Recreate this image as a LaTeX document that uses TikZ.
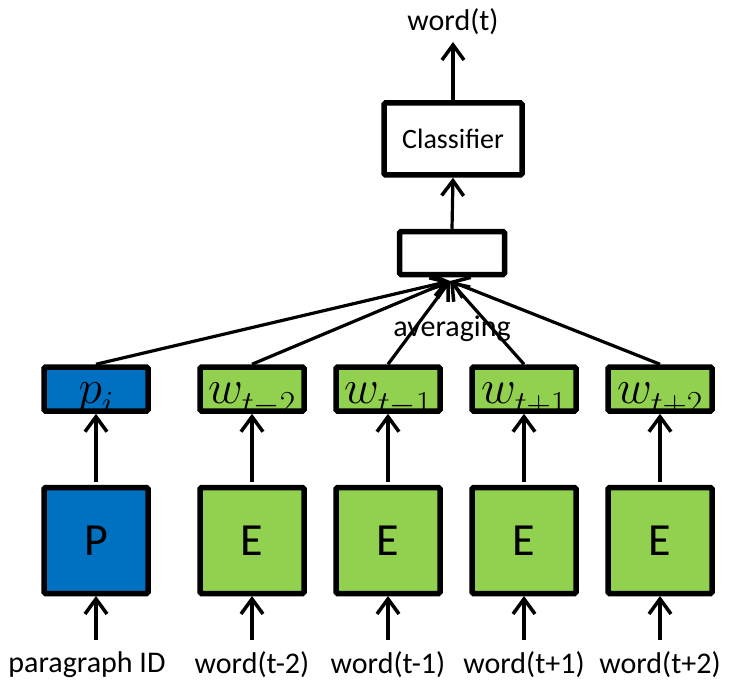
\documentclass[tikz,border=0pt]{standalone}
\usepackage{fix-cm}
\usepackage{fontspec}
\setmainfont{Carlito}
\usetikzlibrary{arrows.meta}
\definecolor{pblue}{HTML}{0070C0}
\definecolor{egreen}{HTML}{92D050}
\newcommand{\lowsub}[2]{#1_{\lower4pt\hbox{$\scriptstyle #2$}}}
\begin{document}
\begin{tikzpicture}[x=1pt,y=-1pt,
  box/.style={draw=black,line width=5.5pt,rounded corners=1.5pt,inner sep=0pt},
  vecbox/.style={box,minimum width=104pt,minimum height=44pt},
  embbox/.style={box,minimum width=104pt,minimum height=106pt,font=\fontsize{46}{50}\selectfont},
  lbl/.style={font=\fontsize{30}{34}\selectfont,inner sep=0pt},
  arr/.style={line width=3.2pt,-{Straight Barb[length=15pt,width=22pt,line width=3.5pt]}},
  vecpic/.style={path picture={\node[anchor=base,inner sep=0pt,font=\fontsize{48}{52}\selectfont]
      at ([yshift=-14pt]path picture bounding box.center) {$#1$};}}
]
\useasboundingbox (0,0) rectangle (734,682);

% output
\node[lbl] (out) at (453,22) {word(t)};
\node[box,minimum width=138pt,minimum height=72pt,font=\fontsize{28}{32}\selectfont] (cls) at (453,139) {Classifier};
\node[box,minimum width=105pt,minimum height=43pt] (avg) at (452,253) {};
\coordinate (outtip) at (453,42);
\coordinate (meet) at (450,281);
\node[lbl] (avglbl) at (452,329) {averaging};

% word vectors
\node[vecbox,fill=pblue,vecpic={\lowsub{p}{i}}] (v0) at (96,389) {};
\node[vecbox,fill=egreen,vecpic={\lowsub{w}{t-2}}] (v1) at (252,389) {};
\node[vecbox,fill=egreen,vecpic={\lowsub{w}{t-1}}] (v2) at (388,389) {};
\node[vecbox,fill=egreen,vecpic={\lowsub{w}{t+1}}] (v3) at (524,389) {};
\node[vecbox,fill=egreen,vecpic={\lowsub{w}{t+2}}] (v4) at (660,389) {};

% lookup matrices
\node[embbox,fill=pblue] (m0) at (96,540.5) {P};
\node[embbox,fill=egreen] (m1) at (252,540.5) {E};
\node[embbox,fill=egreen] (m2) at (388,540.5) {E};
\node[embbox,fill=egreen] (m3) at (524,540.5) {E};
\node[embbox,fill=egreen] (m4) at (660,540.5) {E};

% inputs
\node[lbl] (in0) at (87,665) {paragraph ID};
\node[lbl] (in1) at (252,665) {word(t-2)};
\node[lbl] (in2) at (388,665) {word(t-1)};
\node[lbl] (in3) at (524,665) {word(t+1)};
\node[lbl] (in4) at (660,665) {word(t+2)};
\foreach \i/\x in {0/96,1/252,2/388,3/524,4/660}{
  \coordinate (s\i) at (\x,640);
  \draw[arr] (s\i) -- (m\i.north |- 0,596);
  \draw[arr] (m\i.north) ++(0,-2.75) -- (v\i.south);
  \draw[arr] (v\i.north) -- (meet);
}
\draw[arr] (avg.north) -- (cls.south);
\draw[arr] (cls.north) -- (outtip);
\end{tikzpicture}
\end{document}
